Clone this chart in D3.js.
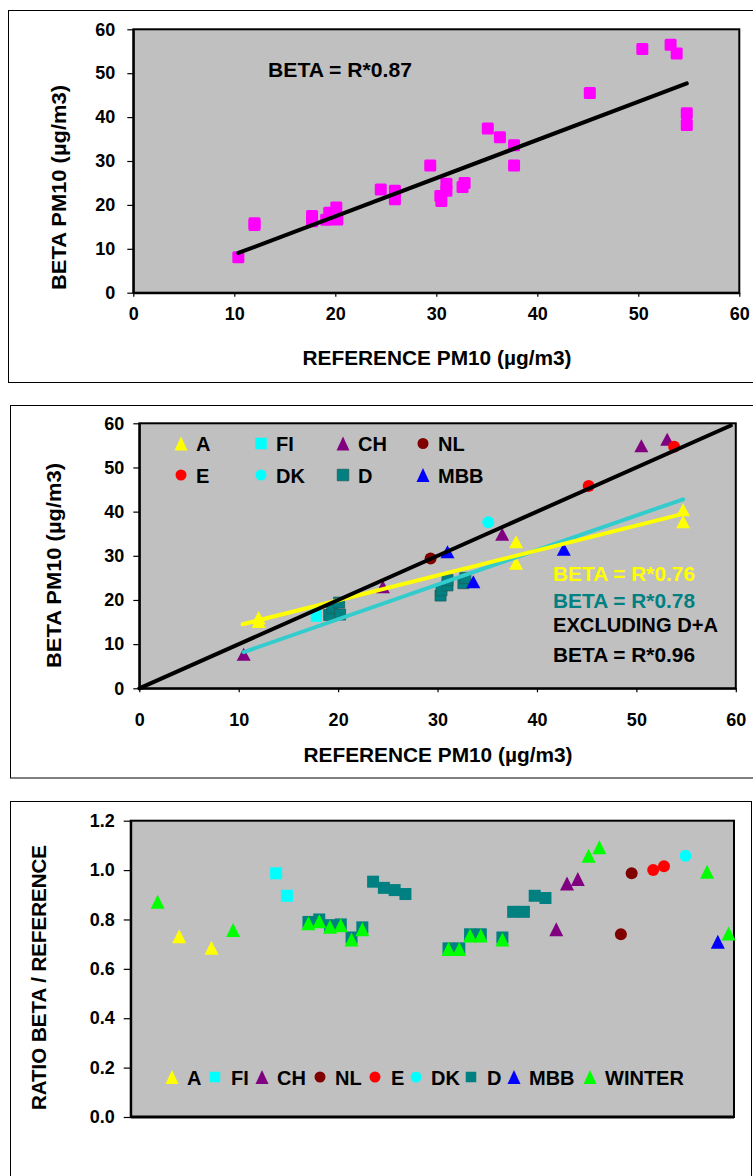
<!DOCTYPE html>
<html><head><meta charset="utf-8">
<script src="https://cdn.jsdelivr.net/npm/d3@7"></script>
<style>
html,body{margin:0;padding:0;background:#fff;}
svg{display:block;}
text{font-family:"Liberation Sans",Arial,Helvetica,sans-serif;font-weight:bold;}
</style></head><body>
<svg id="c" width="753" height="1176"></svg>
<script>
// ---------------- DATA ----------------
const axisTicks = [0, 10, 20, 30, 40, 50, 60];
const ratioTicks = [0, 0.2, 0.4, 0.6, 0.8, 1.0, 1.2];

// Chart 1: all sites
const topRef  = [10.4, 12.0, 12.0, 17.7, 17.7, 19.1, 19.4, 20.1, 20.2, 24.5, 25.9, 25.9, 29.4, 30.4, 30.5, 31.0, 31.0, 32.6, 32.8, 35.1, 36.3, 37.7, 37.7, 45.2, 50.4, 53.2, 53.8, 54.8, 54.8];
const topBeta = [8.1, 15.8, 15.4, 17.5, 16.3, 16.6, 18.2, 19.4, 16.7, 23.5, 23.2, 21.3, 29.0, 22.0, 20.9, 24.8, 23.2, 24.1, 25.0, 37.4, 35.4, 33.6, 29.0, 45.5, 55.5, 56.5, 54.5, 40.9, 38.2];
const topSlope = 0.87;
const topLabel = "BETA = R*0.87";

// Chart 2: per country [reference, beta]
const ptsA   = [[12.0, 16.0], [12.0, 15.1], [37.9, 33.2], [37.9, 28.3], [54.7, 40.4], [54.7, 37.7]];
const ptsFI  = [[17.8, 17.3], [17.8, 16.3]];
const ptsCH  = [[10.5, 7.7], [24.5, 23.0], [36.5, 34.9], [50.5, 54.9], [53.1, 56.4]];
const ptsNL  = [[29.3, 29.4]];
const ptsE   = [[45.2, 45.8], [53.8, 54.7]];
const ptsDK  = [[35.1, 37.6]];
const ptsD   = [[19.1, 16.6], [19.4, 18.2], [20.1, 19.4], [20.2, 16.7], [30.3, 21.0], [30.4, 22.2], [31.0, 23.3], [31.0, 24.5], [32.6, 23.8], [32.8, 25.0]];
const ptsMBB = [[31.0, 30.9], [33.6, 24.1], [42.7, 31.5]];
const fitARef = [10.4, 54.7], fitABeta = [14.5, 39.5];
const fitDRef = [10.5, 54.7], fitDBeta = [8.2, 42.8];
const oneToOne = [0, 59.5];
const midLabels = ["BETA = R*0.76", "BETA = R*0.78", "EXCLUDING D+A", "BETA = R*0.96"];

// Chart 3: ratio beta/reference, [slot index, ratio]
const nSlots = 56;
const ratioA      = [[4, 0.732], [7, 0.685]];
const ratioFI     = [[13, 0.987], [14, 0.896]];
const ratioCH     = [[39, 0.760], [40, 0.946], [41, 0.964]];
const ratioNL     = [[45, 0.740], [46, 0.987]];
const ratioE      = [[48, 1.000], [49, 1.016]];
const ratioDK     = [[51, 1.058]];
const ratioD      = [[16, 0.790], [17, 0.800], [18, 0.777], [19, 0.780], [20, 0.727], [21, 0.768], [22, 0.953], [23, 0.928], [24, 0.919], [25, 0.903], [29, 0.683], [30, 0.683], [31, 0.740], [32, 0.740], [34, 0.727], [35, 0.831], [36, 0.831], [37, 0.896], [38, 0.887]];
const ratioMBB    = [[54, 0.710]];
const ratioWINTER = [[2, 0.872], [9, 0.757], [16, 0.785], [17, 0.793], [18, 0.771], [19, 0.777], [20, 0.719], [21, 0.760], [29, 0.680], [30, 0.680], [31, 0.735], [32, 0.735], [34, 0.719], [42, 1.058], [43, 1.092], [53, 0.993], [55, 0.743]];

const seriesNames = ["A", "FI", "CH", "NL", "E", "DK", "D", "MBB", "WINTER"];

// ---------------- STYLES ----------------
const style = {
  A:      {shape: "tri", color: "#FFFF00"},
  FI:     {shape: "sq",  color: "#00FFFF"},
  CH:     {shape: "tri", color: "#800080"},
  NL:     {shape: "cir", color: "#800000"},
  E:      {shape: "cir", color: "#FF0000"},
  DK:     {shape: "cir", color: "#00FFFF"},
  D:      {shape: "sq",  color: "#008080"},
  MBB:    {shape: "tri", color: "#0000FF"},
  WINTER: {shape: "tri", color: "#00FF00"}
};
const PLOT_BG = "#C0C0C0";

const svg = d3.select("#c");

function markerPath(shape, cx, cy, s) {
  if (shape === "tri") {
    const w = s.tw, h = s.th;
    return `M${cx},${cy - h / 2}L${cx + w / 2},${cy + h / 2}L${cx - w / 2},${cy + h / 2}Z`;
  }
  if (shape === "sq") {
    const a = s.sq / 2;
    return `M${cx - a},${cy - a}h${s.sq}v${s.sq}h${-s.sq}Z`;
  }
  const r = s.r;
  return `M${cx - r},${cy}a${r},${r} 0 1,0 ${2 * r},0a${r},${r} 0 1,0 ${-2 * r},0Z`;
}

function drawMarkers(g, pts, name, xf, yf, sizes, strokeCol) {
  const st = style[name];
  g.append("g").selectAll("path").data(pts).join("path")
    .attr("d", d => markerPath(st.shape, xf(d[0]), yf(d[1]), sizes))
    .attr("fill", st.color)
    .attr("stroke", strokeCol ? strokeCol(st) : "none")
    .attr("stroke-width", 0.8);
}

function frame(x, y, w, h) {
  svg.append("rect").attr("x", x).attr("y", y).attr("width", w).attr("height", h)
    .attr("fill", "none").attr("stroke", "#000").attr("stroke-width", 1);
}

function plotArea(g, x, y) {
  const [x0, x1] = x.range(), [y0, y1] = y.range();
  g.append("rect").attr("x", x0).attr("y", y1).attr("width", x1 - x0).attr("height", y0 - y1)
    .attr("fill", PLOT_BG);
}
function plotBorder(g, x, y) {
  const [x0, x1] = x.range(), [y0, y1] = y.range();
  g.append("rect").attr("x", x0).attr("y", y1).attr("width", x1 - x0).attr("height", y0 - y1)
    .attr("fill", "none").attr("stroke", "#000").attr("stroke-width", 2);
}

function scatterAxes(g, x, y, xLabelDy, yPad) {
  const ax = g.append("g").attr("transform", `translate(0,${y.range()[0]})`)
    .call(d3.axisBottom(x).tickValues(axisTicks).tickSize(4).tickSizeOuter(0));
  ax.select(".domain").attr("stroke-width", 2);
  ax.selectAll(".tick line").attr("stroke-width", 1.2);
  ax.selectAll("text").attr("y", xLabelDy).attr("dy", 0)
    .style("font-size", "18px").attr("fill", "#000");
  const ay = g.append("g").attr("transform", `translate(${x.range()[0]},0)`)
    .call(d3.axisLeft(y).tickValues(axisTicks).tickSize(6).tickPadding(yPad).tickSizeOuter(0));
  ay.select(".domain").attr("stroke-width", 2);
  ay.selectAll(".tick line").attr("stroke-width", 1.2);
  ay.selectAll("text").style("font-size", "18px").attr("fill", "#000");
}

function titleText(g, txt, cx, cy, len, rotate, size) {
  g.append("text").text(txt)
    .attr("x", 0).attr("y", 0)
    .attr("text-anchor", "middle")
    .attr("textLength", len).attr("lengthAdjust", "spacingAndGlyphs")
    .attr("transform", rotate ? `translate(${cx},${cy}) rotate(-90)` : `translate(${cx},${cy})`)
    .style("font-size", size + "px").attr("fill", "#000");
}

// ================= CHART 1 =================
frame(8.5, 10.5, 800, 372);
const g1 = svg.append("g");
const x1 = d3.scaleLinear().domain([0, 60]).range([133.3, 739.3]);
const y1 = d3.scaleLinear().domain([0, 60]).range([292.7, 29.3]);
plotArea(g1, x1, y1);
plotBorder(g1, x1, y1);
scatterAxes(g1, x1, y1, 27.5, 12);
const topPts = topRef.map((r, i) => [r, topBeta[i]]);
g1.append("g").selectAll("rect").data(topPts).join("rect")
  .attr("x", d => x1(d[0]) - 6).attr("y", d => y1(d[1]) - 6)
  .attr("width", 12).attr("height", 12).attr("rx", 1.5)
  .attr("fill", "#FF00FF");
const topExt = d3.extent(topRef);
g1.append("line")
  .attr("x1", x1(topExt[0])).attr("y1", y1(topExt[0] * topSlope))
  .attr("x2", x1(topExt[1])).attr("y2", y1(topExt[1] * topSlope))
  .attr("stroke", "#000").attr("stroke-width", 4).attr("stroke-linecap", "round");
g1.append("text").text(topLabel).attr("x", 268).attr("y", 77)
  .attr("textLength", 144).attr("lengthAdjust", "spacingAndGlyphs")
  .style("font-size", "20px").attr("fill", "#000");
titleText(g1, "REFERENCE PM10 (µg/m3)", 437, 365, 269, false, 20);
titleText(g1, "BETA PM10 (µg/m3)", 66, 187.5, 205, true, 21);

// ================= CHART 2 =================
frame(10.5, 405.5, 800, 372.5);
const g2 = svg.append("g");
const x2 = d3.scaleLinear().domain([0, 60]).range([139.3, 735.8]);
const y2 = d3.scaleLinear().domain([0, 60]).range([688.3, 423.3]);
plotArea(g2, x2, y2);
plotBorder(g2, x2, y2);
scatterAxes(g2, x2, y2, 37.5, 9);
const midSizes = {tw: 14, th: 13, sq: 11, r: 6};
const midSeries = {A: ptsA, FI: ptsFI, CH: ptsCH, NL: ptsNL, E: ptsE, DK: ptsDK, D: ptsD, MBB: ptsMBB};
Object.keys(midSeries).forEach(k => {
  drawMarkers(g2, midSeries[k], k, x2, y2, midSizes, st => k === "D" ? "#1d5f5f" : "none");
});
function fitLine(g, xs, ys, col) {
  g.append("line").attr("x1", x2(xs[0])).attr("y1", y2(ys[0]))
    .attr("x2", x2(xs[1])).attr("y2", y2(ys[1]))
    .attr("stroke", col).attr("stroke-width", 4).attr("stroke-linecap", "round");
}
fitLine(g2, fitDRef, fitDBeta, "#33CCCC");
fitLine(g2, fitARef, fitABeta, "#FFFF00");
fitLine(g2, oneToOne, oneToOne, "#000");
// legend (2 rows x 4)
const midLegX = [181, 261, 343, 423];
const midLegY = [443.5, 475];
seriesNames.slice(0, 8).forEach((k, i) => {
  const col = i % 4, row = Math.floor(i / 4);
  const cx = midLegX[col], cy = midLegY[row];
  g2.append("path").attr("d", markerPath(style[k].shape, cx, cy, {tw: 13, th: 14, sq: 11.5, r: 5.5}))
    .attr("fill", style[k].color).attr("stroke", k === "D" ? "#1d5f5f" : "none").attr("stroke-width", 0.8);
  g2.append("text").text(k).attr("x", cx + 15).attr("y", cy + 7.5)
    .style("font-size", "20px").attr("fill", "#000");
});
const midLabCol = ["#FFFF00", "#008080", "#000", "#000"];
const midLabY = [580.7, 608.3, 632.3, 662.3];
midLabels.forEach((t, i) => {
  g2.append("text").text(t).attr("x", 553).attr("y", midLabY[i])
    .attr("textLength", i === 2 ? 165 : 142).attr("lengthAdjust", "spacingAndGlyphs")
    .style("font-size", "20px").attr("fill", midLabCol[i]);
});
titleText(g2, "REFERENCE PM10 (µg/m3)", 438, 762, 269, false, 20);
titleText(g2, "BETA PM10 (µg/m3)", 61, 565.5, 205, true, 21);

// ================= CHART 3 =================
frame(10.5, 801.5, 741, 420);
const g3 = svg.append("g");
const x3 = d3.scaleBand().domain(d3.range(nSlots)).range([130.7, 734]);
const x3c = i => x3(i) + x3.bandwidth() / 2;
const y3 = d3.scaleLinear().domain([0, 1.2]).range([1117, 820.7]);
g3.append("rect").attr("x", 130.7).attr("y", y3(1.2)).attr("width", 734 - 130.7).attr("height", y3(0) - y3(1.2)).attr("fill", PLOT_BG);
g3.append("rect").attr("x", 130.7).attr("y", y3(1.2)).attr("width", 734 - 130.7).attr("height", y3(0) - y3(1.2))
  .attr("fill", "none").attr("stroke", "#000").attr("stroke-width", 2);
const ay3 = g3.append("g").attr("transform", "translate(130.7,0)")
  .call(d3.axisLeft(y3).tickValues(ratioTicks).tickFormat(d3.format(".1f")).tickSize(7).tickPadding(9).tickSizeOuter(0));
ay3.select(".domain").attr("stroke-width", 2);
ay3.selectAll(".tick line").attr("stroke-width", 1.2);
ay3.selectAll("text").style("font-size", "18px").attr("fill", "#000");
g3.append("line").attr("x1", 130.7).attr("x2", 734).attr("y1", y3(0)).attr("y2", y3(0))
  .attr("stroke", "#000").attr("stroke-width", 3);
const botSizes = {tw: 14, th: 14, sq: 12, r: 6};
const botSeries = {A: ratioA, FI: ratioFI, CH: ratioCH, NL: ratioNL, E: ratioE, DK: ratioDK, D: ratioD, MBB: ratioMBB, WINTER: ratioWINTER};
Object.keys(botSeries).forEach(k => {
  drawMarkers(g3, botSeries[k], k, x3c, y3, botSizes, null);
});
// legend
const botLegMarkX = [172, 215, 262, 320, 375, 416, 471, 514, 590];
const botLegTextX = [187, 231, 277, 335, 391, 431, 487, 529, 605];
seriesNames.forEach((k, i) => {
  g3.append("path").attr("d", markerPath(style[k].shape, botLegMarkX[i], 1077, {tw: 13, th: 14, sq: 10.5, r: 5.5}))
    .attr("fill", style[k].color);
  g3.append("text").text(k).attr("x", botLegTextX[i]).attr("y", 1084.5)
    .style("font-size", "20px").attr("fill", "#000");
});
titleText(g3, "RATIO BETA / REFERENCE", 46, 977.5, 265, true, 21);
</script>
</body></html>
